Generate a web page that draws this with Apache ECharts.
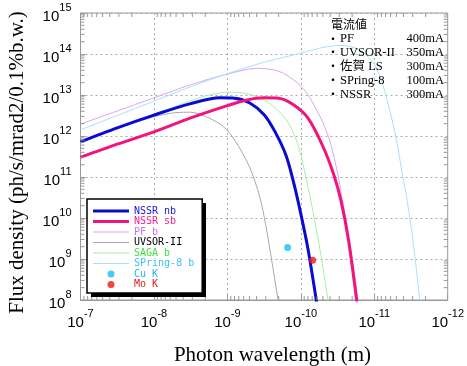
<!DOCTYPE html>
<html><head><meta charset="utf-8">
<script src="https://cdn.jsdelivr.net/npm/echarts@6/dist/echarts.min.js"></script>
<style>html,body{margin:0;padding:0;background:#fff}#c{width:467px;height:366px}</style>
</head><body><div id="c"></div><script>
// values stored as log10 (wavelength in m, flux density)
const nbL = [-7.0,-7.5,-8.0,-8.5,-8.9,-9.1,-9.3,-9.5,-9.65,-9.8,-9.9,-10.0,-10.1,-10.21,-10.25];
const nbF = [11.86,12.20,12.51,12.79,12.93,12.92,12.81,12.52,12.10,11.52,10.88,10.10,9.22,8.0,7.5];
const sbL = [-7.0,-7.5,-8.0,-8.5,-9.0,-9.25,-9.5,-9.7,-9.9,-10.1,-10.3,-10.45,-10.55,-10.65,-10.76,-10.8];
const sbF = [11.48,11.80,12.10,12.44,12.74,12.87,12.93,12.92,12.76,12.43,11.75,11.05,10.40,9.45,8.0,7.4];
const pfL = [-7.0,-7.5,-8.0,-8.5,-9.0,-9.4,-9.7,-9.95,-10.1,-10.2,-10.3,-10.4,-10.5,-10.56,-10.65,-10.78,-10.82];
const pfF = [12.29,12.61,12.93,13.25,13.51,13.65,13.58,13.30,13.0,12.68,12.33,11.85,11.10,10.50,9.62,8.0,7.4];
const uvL = [-7.0,-7.5,-8.0,-8.3,-8.5,-8.75,-8.95,-9.1,-9.3,-9.44,-9.52,-9.6,-9.69,-9.73];
const uvF = [11.85,12.18,12.47,12.57,12.58,12.44,12.22,11.90,11.25,10.52,9.85,9.0,8.0,7.5];
const sgL = [-7.0,-7.5,-8.0,-8.5,-8.75,-9.03,-9.3,-9.55,-9.8,-9.95,-10.05,-10.15,-10.25,-10.37,-10.42];
const sgF = [11.87,12.21,12.53,12.86,13.00,13.07,13.02,12.83,12.40,11.85,11.15,10.30,9.35,8.0,7.4];
const spL = [-7.0,-7.5,-8.0,-8.5,-9.0,-9.5,-10.0,-10.3,-10.55,-10.8,-11.0,-11.12,-11.21,-11.3,-11.38,-11.45,-11.53,-11.62,-11.66];
const spF = [12.15,12.50,12.85,13.20,13.52,13.80,14.02,14.16,14.21,14.10,13.75,13.22,12.63,11.92,11.10,10.40,9.40,8.0,7.4];
const cuK = [-9.82, 9.28];
const moK = [-10.16, 8.97];

const seriesNames = ['NSSR nb','NSSR sb','PF b','UVSOR-II','SAGA b','SPring-8 b','Cu K','Mo K'];
const annoTitle = '電流値';
const annoNames = ['PF','UVSOR-II','佐賀 LS','SPring-8','NSSR'];
const annoCurrents = ['400mA','350mA','300mA','100mA','300mA'];
const xTitle = 'Photon wavelength (m)';
const yTitle = 'Flux density (ph/s/mrad2/0.1%b.w.)';
const xDecades = [-12,-11,-10,-9,-8,-7];
const yDecades = [8,9,10,11,12,13,14,15];

const pts = (L, F) => L.map((l, i) => [Math.pow(10, l), Math.pow(10, F[i])]);

const xMinor = [], yMinor = [];
xDecades.slice(0, -1).forEach(e => { for (let m = 2; m <= 9; m++) xMinor.push([m * Math.pow(10, e), 1e8]); });
yDecades.slice(0, -1).forEach(e => { for (let m = 2; m <= 9; m++) yMinor.push([1e-7, m * Math.pow(10, e)]); });

const tickColor = '#999';
const gridColor = '#aaa';
const lbl = v => '{a|10}{b|' + Math.round(Math.log10(v)) + '}';
const richLbl = {
  a: {fontFamily: 'Liberation Sans', fontSize: 15, lineHeight: 22, color: '#000', verticalAlign: 'bottom'},
  b: {fontFamily: 'Liberation Sans', fontSize: 11, lineHeight: 11, color: '#000', verticalAlign: 'top'}
};

function line(name, L, F, color, width, z) {
  return {name, type: 'line', data: pts(L, F), smooth: 0.3, symbol: 'none', showSymbol: false,
    lineStyle: {color, width}, itemStyle: {color}, z, animation: false};
}
const thick = 'path://M0,0H36V3H0Z';
const thin = 'path://M0,0H36V1H0Z';

const chart = echarts.init(document.getElementById('c'), null, {renderer: 'canvas'});
chart.setOption({
  animation: false,
  backgroundColor: '#fff',
  grid: {left: 80.5, right: 19, top: 13, bottom: 66, show: true, borderColor: '#999', borderWidth: 1, backgroundColor: 'transparent'},
  xAxis: {
    type: 'log', logBase: 10, min: 1e-12, max: 1e-7, inverse: true, splitNumber: 5,
    axisLine: {show: true, lineStyle: {color: tickColor}},
    axisTick: {inside: true, length: 5, lineStyle: {color: tickColor}},
    axisLabel: {formatter: lbl, rich: richLbl, margin: 8},
    splitLine: {show: true, lineStyle: {color: gridColor, type: [2, 3], width: 1}}
  },
  yAxis: {
    type: 'log', logBase: 10, min: 1e8, max: 1e15, splitNumber: 7,
    axisLine: {show: true, lineStyle: {color: tickColor}},
    axisTick: {inside: true, length: 5, lineStyle: {color: tickColor}},
    axisLabel: {formatter: lbl, rich: richLbl, margin: 9},
    splitLine: {show: true, lineStyle: {color: gridColor, type: [2, 3], width: 1}}
  },
  legend: {
    orient: 'vertical', left: 87, top: 199, itemWidth: 36, itemHeight: 7, itemGap: 0.5,
    padding: [7, 8, 3.5, 6], backgroundColor: '#fff', borderColor: '#000', borderWidth: 1.5,
    selectedMode: false, z: 20,
    textStyle: {fontFamily: 'DejaVu Sans Mono', fontSize: 10, lineHeight: 10},
    data: [
      {name: seriesNames[0], icon: thick, textStyle: {color: '#1414e0'}},
      {name: seriesNames[1], icon: thick, textStyle: {color: '#f0208a'}},
      {name: seriesNames[2], icon: thin, textStyle: {color: '#cc70f0'}},
      {name: seriesNames[3], icon: thin, textStyle: {color: '#000'}},
      {name: seriesNames[4], icon: thin, textStyle: {color: '#40e040'}},
      {name: seriesNames[5], icon: thin, textStyle: {color: '#3cc0f8'}},
      {name: seriesNames[6], icon: 'circle', textStyle: {color: '#20b8f0'}},
      {name: seriesNames[7], icon: 'circle', textStyle: {color: '#e02020'}}
    ]
  },
  graphic: [
    {type: 'rect', shape: {x: 91, y: 203, width: 115, height: 94}, style: {fill: '#000'}, z: 19},
    {type: 'text', x: 17.5, y: 162.5, rotation: Math.PI / 2, z: 100,
      style: {text: yTitle, font: '21px "Liberation Serif"', fill: '#000', align: 'center', verticalAlign: 'middle'}},
    {type: 'text', x: 272.5, y: 355, z: 100,
      style: {text: xTitle, font: '21px "Liberation Serif"', fill: '#000', align: 'center', verticalAlign: 'middle'}},
    {type: 'text', x: 331, y: 24, style: {text: annoTitle, font: '12px "Noto Sans CJK JP"', fill: '#000', verticalAlign: 'middle'}, z: 100},
    ...annoNames.map((n, i) => ({type: 'text', x: 327, y: 39 + i * 13.9, z: 100,
      style: {text: '・', font: '12px "Noto Sans CJK JP"', fill: '#000', verticalAlign: 'middle'}})),
    ...annoNames.map((n, i) => ({type: 'text', x: 340, y: 39 + i * 13.9, z: 100,
      style: {text: n, font: '12.5px "Liberation Serif", "Noto Sans CJK JP"', fill: '#000', verticalAlign: 'middle'}})),
    ...annoCurrents.map((c, i) => ({type: 'text', x: 444, y: 39 + i * 13.9, z: 100,
      style: {text: c, font: '12.5px "Liberation Serif"', fill: '#000', align: 'right', verticalAlign: 'middle'}}))
  ],
  series: [
    line(seriesNames[0], nbL, nbF, '#0a0ad2', 3, 5),
    line(seriesNames[1], sbL, sbF, '#f0147c', 3, 6),
    line(seriesNames[2], pfL, pfF, '#dca4f2', 1, 3),
    line(seriesNames[3], uvL, uvF, '#a8a8a8', 1, 3),
    line(seriesNames[4], sgL, sgF, '#a4f0a4', 1, 3),
    line(seriesNames[5], spL, spF, '#a4e2f8', 1, 3),
    {name: seriesNames[6], type: 'scatter', data: [[Math.pow(10, cuK[0]), Math.pow(10, cuK[1])]], symbol: 'circle', symbolSize: 7, itemStyle: {color: '#18c0f4'}, z: 8},
    {name: seriesNames[7], type: 'scatter', data: [[Math.pow(10, moK[0]), Math.pow(10, moK[1])]], symbol: 'circle', symbolSize: 7, itemStyle: {color: '#e81818'}, z: 8},
    {type: 'custom', name: 'xminor', data: xMinor, silent: true, z: 9,
      renderItem: (params, api) => {
        const x = api.coord([api.value(0), 1e8])[0];
        const cs = params.coordSys;
        return {type: 'group', children: [
          {type: 'line', shape: {x1: x, y1: cs.y + cs.height, x2: x, y2: cs.y + cs.height - 4}, style: {stroke: tickColor, lineWidth: 1}},
          {type: 'line', shape: {x1: x, y1: cs.y, x2: x, y2: cs.y + 4}, style: {stroke: tickColor, lineWidth: 1}}
        ]};
      }},
    {type: 'custom', name: 'yminor', data: yMinor, silent: true, z: 9,
      renderItem: (params, api) => {
        const y = api.coord([1e-7, api.value(1)])[1];
        const cs = params.coordSys;
        return {type: 'group', children: [
          {type: 'line', shape: {x1: cs.x, y1: y, x2: cs.x + 4, y2: y}, style: {stroke: tickColor, lineWidth: 1}},
          {type: 'line', shape: {x1: cs.x + cs.width, y1: y, x2: cs.x + cs.width - 4, y2: y}, style: {stroke: tickColor, lineWidth: 1}}
        ]};
      }}
  ]
});
</script></body></html>
